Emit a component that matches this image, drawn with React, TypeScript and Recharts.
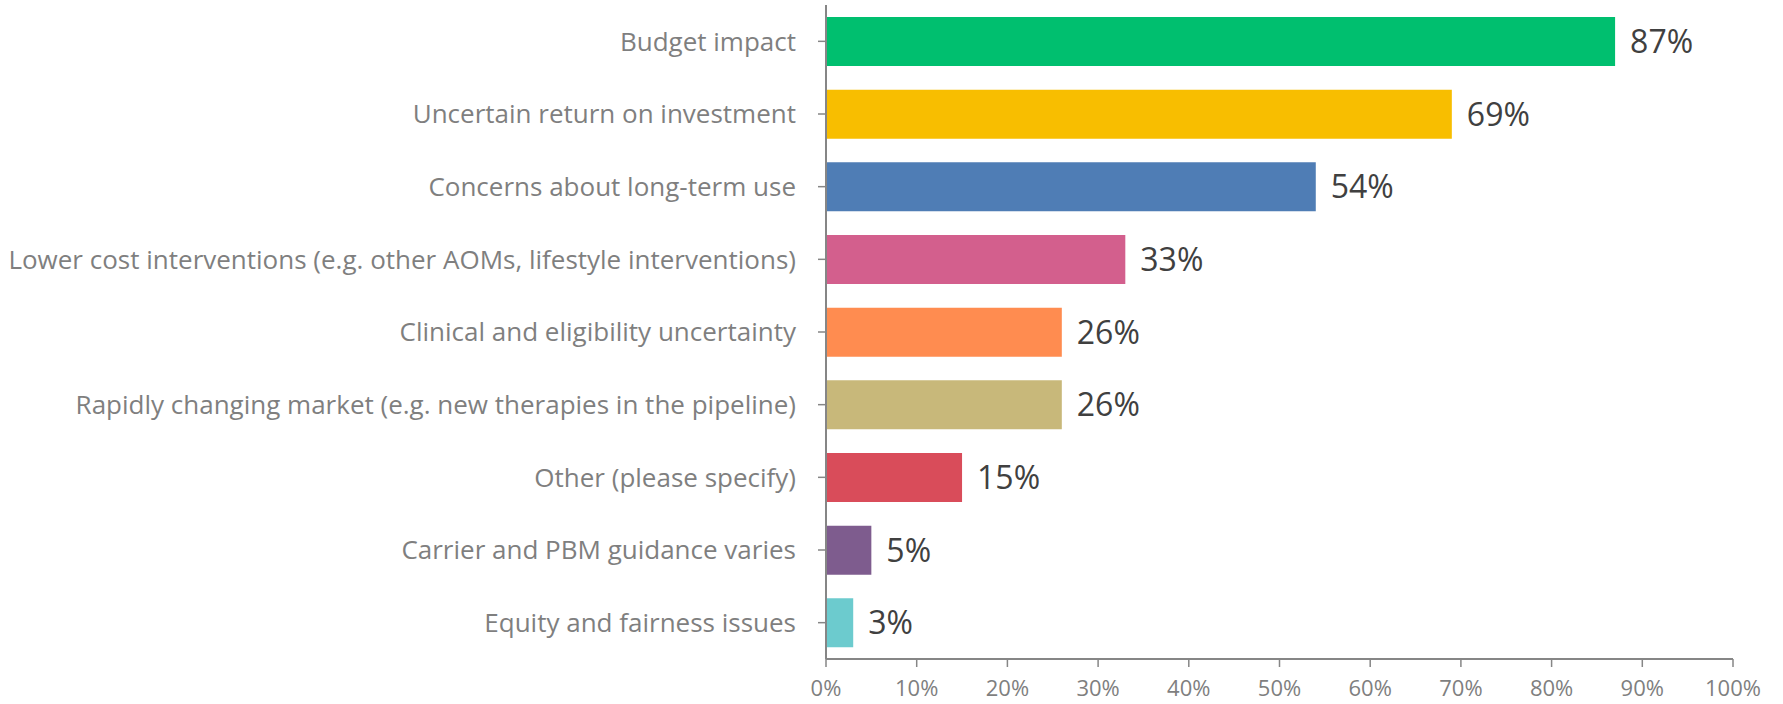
import React from "react";
import { BarChart, Bar, XAxis, YAxis, Cell, LabelList } from "recharts";

const categories = [
  "Budget impact",
  "Uncertain return on investment",
  "Concerns about long-term use",
  "Lower cost interventions (e.g. other AOMs, lifestyle interventions)",
  "Clinical and eligibility uncertainty",
  "Rapidly changing market (e.g. new therapies in the pipeline)",
  "Other (please specify)",
  "Carrier and PBM guidance varies",
  "Equity and fairness issues",
];
const values = [87, 69, 54, 33, 26, 26, 15, 5, 3];
const colors = [
  "#00BF6F",
  "#F8BE00",
  "#4F7DB5",
  "#D35F8D",
  "#FF8C50",
  "#C8B87A",
  "#D94C5A",
  "#7E5C8E",
  "#6CCBCE",
];
const xTicks = [0, 10, 20, 30, 40, 50, 60, 70, 80, 90, 100];

const data = categories.map((c, i) => ({ name: c, value: values[i] }));

const FONT = "'Open Sans', 'Noto Sans', sans-serif";

export default function App() {
  return (
    <div style={{ position: "absolute", left: 0, top: 0, background: "#fff" }}>
      <BarChart
        width={1783}
        height={704}
        data={data}
        layout="vertical"
        margin={{ top: 5, right: 50, bottom: 0, left: 0 }}
        barCategoryGap="33%"
      >
        <XAxis
          type="number"
          domain={[0, 100]}
          ticks={xTicks}
          tickFormatter={(v: number) => `${v}%`}
          axisLine={{ stroke: "#868686", strokeWidth: 2 }}
          tickLine={{ stroke: "#868686", strokeWidth: 1.5 }}
          tickSize={8}
          tickMargin={13}
          height={45}
          tick={{ fill: "#7f7f7f", fontSize: 22, fontFamily: FONT }}
          interval={0}
        />
        <YAxis
          type="category"
          dataKey="name"
          width={826}
          axisLine={{ stroke: "#868686", strokeWidth: 2 }}
          tickLine={{ stroke: "#868686", strokeWidth: 1.5 }}
          tickSize={8}
          tickMargin={22}
          tick={{ fill: "#7f7f7f", fontSize: 26, fontFamily: FONT }}
          interval={0}
        />
        <Bar dataKey="value" isAnimationActive={false} barSize={49}>
          {data.map((d, i) => (
            <Cell key={d.name} fill={colors[i]} />
          ))}
          <LabelList
            dataKey="value"
            position="right"
            offset={15}
            formatter={(v: number) => `${v}%`}
            style={{ fill: "#404040", fontSize: 32, fontFamily: FONT }}
          />
        </Bar>
      </BarChart>
    </div>
  );
}
